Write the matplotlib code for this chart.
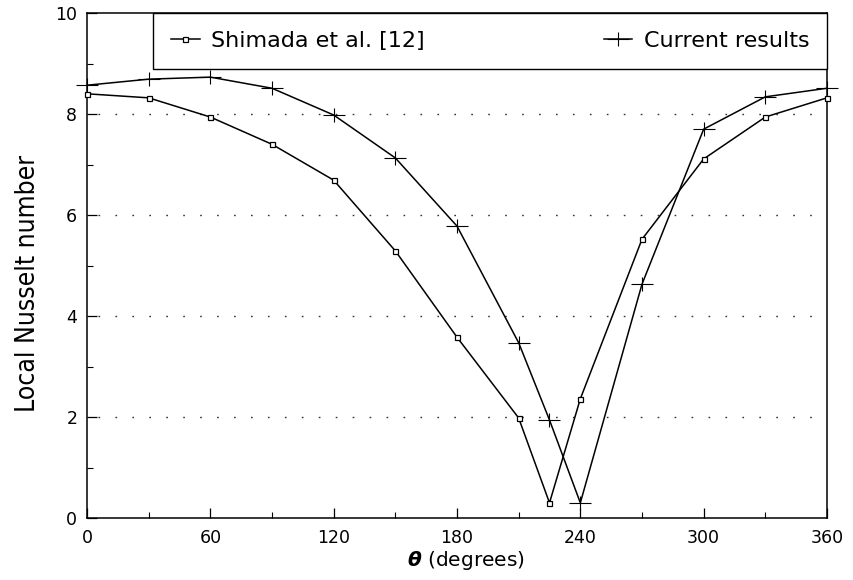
import matplotlib
matplotlib.use("Agg")
import matplotlib.pyplot as plt
from matplotlib.path import Path
from matplotlib.ticker import MultipleLocator

# Angular positions around the cylinder (degrees)
theta = [0, 30, 60, 90, 120, 150, 180, 210, 225, 240, 270, 300, 330, 360]

# Local Nusselt number, reference data
nu_shimada = [8.40, 8.32, 7.94, 7.40, 6.69, 5.29, 3.58, 1.98, 0.30, 2.36, 5.52, 7.11, 7.94, 8.32]
# Local Nusselt number, present computation
nu_current = [8.57, 8.69, 8.73, 8.51, 7.98, 7.13, 5.78, 3.47, 1.94, 0.30, 4.63, 7.70, 8.34, 8.51]

label_shimada = "Shimada et al. [12]"
label_current = "Current results"

x_ticks = [0, 60, 120, 180, 240, 300, 360]
y_ticks = [0, 2, 4, 6, 8, 10]
grid_levels = [2, 4, 6, 8]

plt.rcParams["font.family"] = ["DejaVu Sans"]

fig = plt.figure(figsize=(8.54, 5.8), dpi=100)
ax = fig.add_axes([87 / 854, 1 - 518 / 580, 740 / 854, 505 / 580])

# Wide plus marker: horizontal arm longer than the vertical one
plus_path = Path([(-1, 0), (1, 0), (0, -0.6), (0, 0.6)],
                 [Path.MOVETO, Path.LINETO, Path.MOVETO, Path.LINETO])

for lvl in grid_levels:
    ax.axhline(lvl, xmin=0.015, xmax=0.99, color="#333333", lw=1.0,
               linestyle=(0, (1.2, 11)), zorder=1)

ax.plot(theta, nu_shimada, color="black", lw=1.1, marker="s", markersize=3.6,
        markerfacecolor="white", markeredgecolor="black", markeredgewidth=0.9,
        label=label_shimada, clip_on=False, zorder=3)
ax.plot(theta, nu_current, color="black", lw=1.1, marker=plus_path, markersize=16,
        markeredgewidth=0.8, label=label_current, clip_on=False, zorder=3)

ax.set_xlim(0, 360)
ax.set_ylim(0, 10)
ax.set_xticks(x_ticks)
ax.set_yticks(y_ticks)
ax.xaxis.set_minor_locator(MultipleLocator(30))
ax.yaxis.set_minor_locator(MultipleLocator(1))
ax.tick_params(which="major", direction="in", length=7.5, width=0.9,
               labelsize=12.5, top=False, right=False)
ax.tick_params(axis="x", which="major", pad=8)
ax.tick_params(axis="y", which="major", pad=7)
ax.tick_params(which="minor", direction="in", length=4, width=0.8,
               top=False, right=False)

for sp in ax.spines.values():
    sp.set_linewidth(1.1)
    sp.set_color("black")

ax.set_ylabel("Local Nusselt number", family=["DejaVu Sans"], stretch="condensed",
              fontsize=19)
ax.yaxis.set_label_coords(-0.062, 0.465)
ax.set_xlabel(r"$\boldsymbol{\theta}$ (degrees)", fontsize=14.5)
ax.xaxis.set_label_coords(0.512, -0.062)

x0 = (153 - 87) / 740
leg = ax.legend(loc="upper right", bbox_to_anchor=(x0, 0.0, 1 - x0, 1.0),
                mode="expand", ncol=2, fontsize=16, frameon=True, fancybox=False,
                edgecolor="black", framealpha=1, borderaxespad=0, borderpad=0.8,
                handlelength=1.3, handletextpad=0.5, columnspacing=1.0)
leg.get_frame().set_linewidth(1.0)

fig.savefig("out.png", dpi=100)
